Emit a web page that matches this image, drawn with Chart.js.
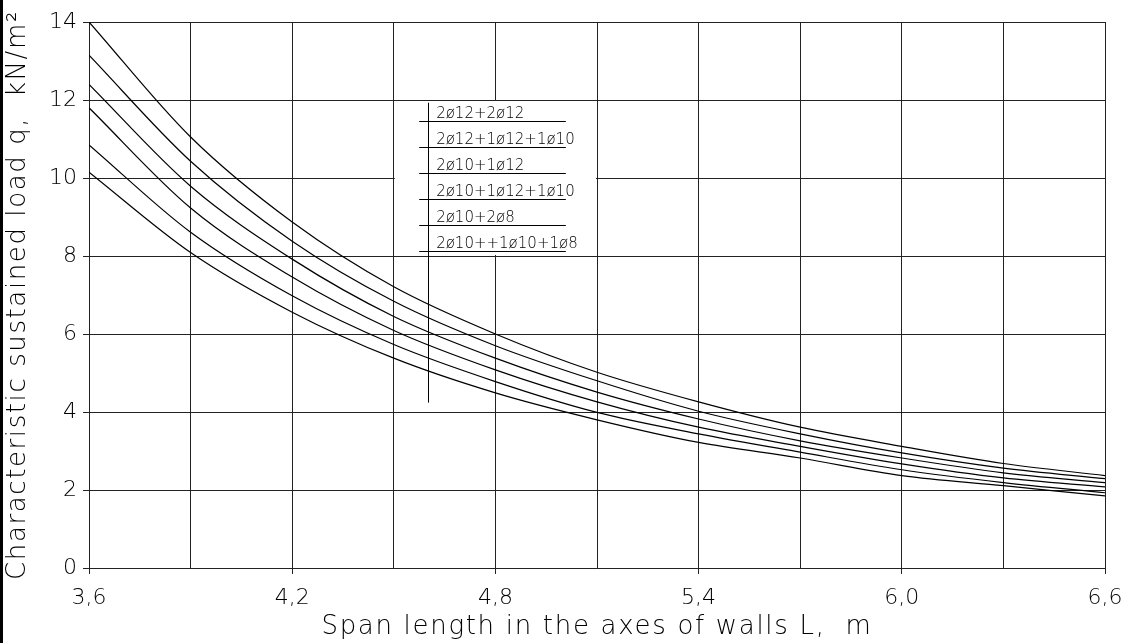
<!DOCTYPE html>
<html>
<head>
<meta charset="utf-8">
<title>Characteristic sustained load vs span length</title>
<script src="https://cdn.jsdelivr.net/npm/chart.js@4.4.1/dist/chart.umd.min.js"></script>
<style>
  html, body { margin: 0; padding: 0; background: #fff; }
  #wrap { width: 1137px; height: 643px; position: relative; }
</style>
</head>
<body>
<div id="wrap"><canvas id="loadChart"></canvas></div>
<script>
// span length L, m
const spans = [3.6, 3.9, 4.2, 4.5, 4.8, 5.1, 5.4, 5.7, 6.0, 6.3, 6.6];

// characteristic sustained load q, kN/m2 (one list per reinforcement layout)
const q_2d12_2d12      = [14.0, 11.05, 8.87, 7.21, 6.00, 5.02, 4.26, 3.61, 3.12, 2.68, 2.37];
const q_2d12_1d12_1d10 = [13.15, 10.43, 8.38, 6.84, 5.70, 4.80, 4.02, 3.44, 2.95, 2.56, 2.29];
const q_2d10_1d12      = [12.4, 9.79, 7.92, 6.45, 5.38, 4.51, 3.82, 3.26, 2.82, 2.44, 2.19];
const q_2d10_1d12_1d10 = [11.8, 9.23, 7.46, 6.09, 5.08, 4.26, 3.61, 3.12, 2.67, 2.31, 2.08];
const q_2d10_2d8       = [10.85, 8.61, 6.98, 5.73, 4.78, 3.99, 3.44, 2.97, 2.52, 2.19, 1.93];
const q_2d10_1d10_1d8  = [10.15, 8.09, 6.56, 5.38, 4.49, 3.80, 3.22, 2.82, 2.37, 2.11, 1.85];

const seriesNames = ['2ø12+2ø12', '2ø12+1ø12+1ø10', '2ø10+1ø12', '2ø10+1ø12+1ø10', '2ø10+2ø8', '2ø10++1ø10+1ø8'];
const seriesValues = [q_2d12_2d12, q_2d12_1d12_1d10, q_2d10_1d12, q_2d10_1d12_1d10, q_2d10_2d8, q_2d10_1d10_1d8];

const xTicksLabelled = [3.6, 4.2, 4.8, 5.4, 6.0, 6.6];

const FONT = '"DejaVu Sans", "Noto Sans", sans-serif';
const INK = '#222';

function isLabelled(v) {
  return xTicksLabelled.some(t => Math.abs(t - v) < 1e-6);
}

// wide CAD-like lettering for the axis titles
function spacedTitle(scale, spacing) {
  if (scale._spacedTitle) return;
  const orig = scale.drawTitle;
  scale.drawTitle = function () {
    const ctx = this.ctx;
    const prev = ctx.letterSpacing;
    ctx.letterSpacing = spacing;
    orig.apply(this, arguments);
    ctx.letterSpacing = prev || '0px';
  };
  scale._spacedTitle = true;
}

const callouts = {
  id: 'callouts',
  beforeDraw(chart) {
    spacedTitle(chart.scales.x, '1.7px');
    spacedTitle(chart.scales.y, '1.6px');
    const ctx = chart.ctx;
    ctx.save();
    ctx.fillStyle = '#000';
    ctx.fillRect(0, 0, 3, chart.height);
    ctx.restore();
  },
  beforeDatasetsDraw(chart) {
    // blank panel behind the labels
    const { x, y } = chart.scales;
    const ctx = chart.ctx;
    const l = x.getPixelForValue(4.5), r = x.getPixelForValue(5.1);
    const t = y.getPixelForValue(12), b = y.getPixelForValue(8);
    ctx.save();
    ctx.fillStyle = '#fff';
    ctx.fillRect(l + 1, t + 1, r - l - 2, b - t - 2);
    ctx.restore();
  },
  afterDatasetsDraw(chart) {
    const { x, y } = chart.scales;
    const ctx = chart.ctx;
    ctx.save();
    ctx.strokeStyle = '#000';
    ctx.lineWidth = 1;
    // leader line
    const lx = Math.round(x.getPixelForValue(4.6)) + 0.5;
    ctx.beginPath();
    ctx.moveTo(lx, y.getPixelForValue(11.93));
    ctx.lineTo(lx, y.getPixelForValue(4.24));
    ctx.stroke();
    // labels with underlines
    ctx.font = '200 15px ' + FONT;
    ctx.fillStyle = '#000';
    ctx.textAlign = 'left';
    ctx.textBaseline = 'alphabetic';
    const x0 = x.getPixelForValue(4.575), x1 = x.getPixelForValue(5.008);
    const tx = x.getPixelForValue(4.625);
    seriesNames.forEach((name, i) => {
      const uy = Math.round(y.getPixelForValue(11.47 - i * 0.667)) + 0.5;
      ctx.beginPath();
      ctx.moveTo(x0, uy);
      ctx.lineTo(x1, uy);
      ctx.stroke();
      ctx.fillText(name, tx, uy - 4);
    });
    ctx.restore();
  }
};

new Chart(document.getElementById('loadChart'), {
  type: 'line',
  data: {
    labels: spans,
    datasets: seriesValues.map((vals, i) => ({
      label: seriesNames[i],
      data: vals.map((v, k) => ({ x: spans[k], y: v })),
      borderColor: '#000',
      borderWidth: 1.2,
      pointRadius: 0,
      fill: false,
      cubicInterpolationMode: 'monotone'
    }))
  },
  options: {
    responsive: true,
    maintainAspectRatio: false,
    animation: false,
    layout: { padding: { left: 0, right: 32, top: 22, bottom: 0 } },
    plugins: {
      legend: { display: false },
      tooltip: { enabled: false }
    },
    scales: {
      x: {
        type: 'linear',
        min: 3.6,
        max: 6.6,
        afterFit(scale) { scale.height = 75; },
        ticks: {
          stepSize: 0.3,
          autoSkip: false,
          maxRotation: 0,
          padding: 11,
          color: '#000',
          font: { family: FONT, size: 22, weight: 200 },
          callback: v => isLabelled(v) ? v.toFixed(1).replace('.', ',') : ''
        },
        grid: {
          color: INK,
          lineWidth: 1,
          tickLength: 6,
          tickColor: c => (c.tick && isLabelled(c.tick.value)) ? INK : 'rgba(0,0,0,0)'
        },
        border: { color: INK, width: 1 },
        title: {
          display: true,
          text: 'Span length in the axes of walls L,  m',
          color: '#000',
          font: { family: FONT, size: 26, weight: 200 },
          padding: { top: 0, bottom: 0 }
        }
      },
      y: {
        min: 0,
        max: 14,
        afterFit(scale) { scale.width = 89; },
        ticks: {
          stepSize: 2,
          padding: 6,
          color: '#000',
          font: { family: FONT, size: 22, weight: 200 }
        },
        grid: { color: INK, lineWidth: 1, tickLength: 6, tickColor: INK },
        border: { color: INK, width: 1 },
        title: {
          display: true,
          text: 'Characteristic sustained load q,  kN/m²',
          color: '#000',
          font: { family: FONT, size: 26, weight: 200 },
          padding: { top: 3, bottom: 0 }
        }
      }
    }
  },
  plugins: [callouts]
});
</script>
</body>
</html>
